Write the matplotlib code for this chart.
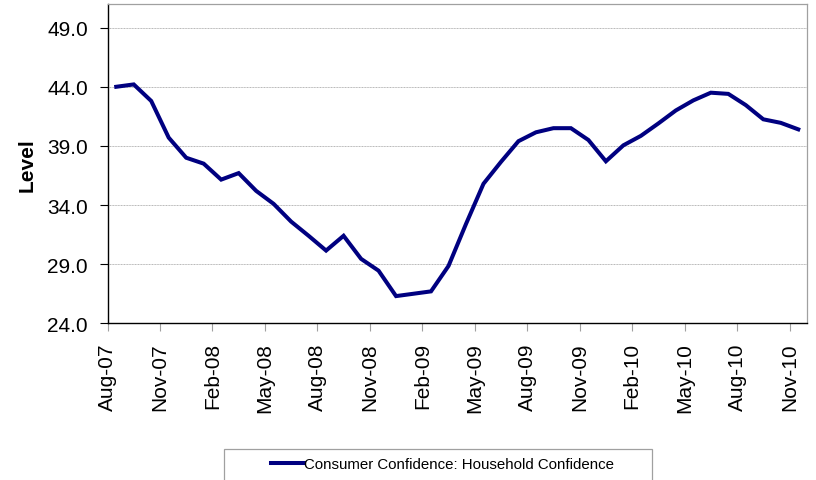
import matplotlib
matplotlib.use("Agg")
import matplotlib.pyplot as plt
from matplotlib.patches import Rectangle
import numpy as np

plt.rcParams['font.family'] = ['Liberation Sans', 'DejaVu Sans']

# Monthly household confidence, Aug-07 .. Nov-10
months = ["Aug-07", "Sep-07", "Oct-07", "Nov-07", "Dec-07", "Jan-08", "Feb-08", "Mar-08",
          "Apr-08", "May-08", "Jun-08", "Jul-08", "Aug-08", "Sep-08", "Oct-08", "Nov-08",
          "Dec-08", "Jan-09", "Feb-09", "Mar-09", "Apr-09", "May-09", "Jun-09", "Jul-09",
          "Aug-09", "Sep-09", "Oct-09", "Nov-09", "Dec-09", "Jan-10", "Feb-10", "Mar-10",
          "Apr-10", "May-10", "Jun-10", "Jul-10", "Aug-10", "Sep-10", "Oct-10", "Nov-10"]
confidence = [44.0, 44.2, 42.8, 39.7, 38.0, 37.5, 36.15, 36.7,
              35.2, 34.1, 32.6, 31.4, 30.15, 31.4, 29.45, 28.45,
              26.3, 26.5, 26.7, 28.85, 32.4, 35.8, 37.65, 39.4,
              40.15, 40.5, 40.5, 39.5, 37.7, 39.05, 39.85, 40.9,
              42.0, 42.85, 43.5, 43.4, 42.45, 41.25, 40.95, 40.4]
series_name = "Consumer Confidence: Household Confidence"
y_ticks = [24.0, 29.0, 34.0, 39.0, 44.0, 49.0]

W, H = 816, 481
fig = plt.figure(figsize=(W / 100, H / 100), dpi=100)
ax = fig.add_axes([107.5 / W, 1 - 324.3 / H, (807 - 107.5) / W, (324.3 - 5) / H])

# each month occupies one slot; the point sits in the middle of its slot
x = np.arange(len(confidence)) + 0.5
line, = ax.plot(x, confidence, color="#000080", linewidth=2.9,
                solid_joinstyle="miter", label=series_name)

ax.set_xlim(0, len(confidence))
ax.set_ylim(24, 51)

tick_idx = list(range(0, len(months), 3))
ax.set_xticks(tick_idx)
ax.set_xticklabels([months[i] for i in tick_idx], rotation=90, fontsize=15)
ax.set_yticks(y_ticks)
ax.set_yticklabels([f"{v:.1f}" for v in y_ticks], fontsize=15)

ax.tick_params(axis="x", length=5.5, width=0.8, color="#a0a0a0", pad=8, labelcolor="black")
ax.tick_params(axis="y", length=5.5, width=0.8, color="black", pad=8.5)

ax.grid(axis="y", color="#b4b4b4", linewidth=0.7, linestyle=(0, (1, 0.6)))
ax.set_axisbelow(True)

for side in ("top", "right"):
    ax.spines[side].set_color("#a0a0a0")
    ax.spines[side].set_linewidth(0.9)
for side in ("left", "bottom"):
    ax.spines[side].set_color("black")
    ax.spines[side].set_linewidth(1.0)

ax.set_ylabel("Level", fontsize=15, fontweight="bold", labelpad=8)

# legend box along the bottom edge
fig.patches.append(Rectangle((224 / W, -0.05), (652 - 224) / W, 0.05 + (481 - 450) / H,
                             transform=fig.transFigure, facecolor="white",
                             edgecolor="#a0a0a0", linewidth=0.9))
fig.legend(handles=[line], loc="center", bbox_to_anchor=(443 / W, 1 - 465 / H),
           frameon=False, fontsize=10.8, handlelength=2.2, handletextpad=0.0,
           borderpad=0.0)

fig.savefig("out.png", dpi=100, facecolor="white")
